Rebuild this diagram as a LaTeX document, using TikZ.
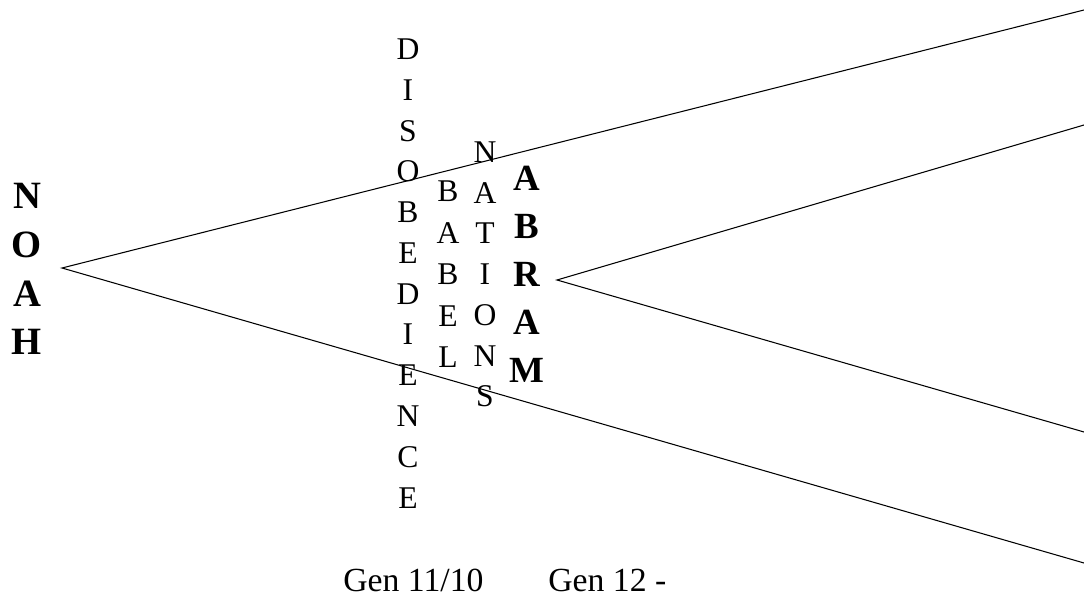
\documentclass[tikz,border=0pt]{standalone}
\usepackage{fontspec}
\setmainfont{Liberation Serif}
\usepackage{tikz}

\begin{document}
\begin{tikzpicture}[x=0.02cm, y=-0.02cm,
    word/.style={align=center, inner sep=0pt, font=\fontsize{18}{23.2}\selectfont},
    bigname/.style={align=center, inner sep=0pt, font=\fontsize{22}{27.8}\selectfont\bfseries},
    ref/.style={anchor=base west, inner sep=0pt, font=\fontsize{19.2}{22}\selectfont},
    branch/.style={line width=0.6pt}]

    \useasboundingbox (0,0) rectangle (1084,597);

    % The two names
    \node[bigname] (noah) at (27,269) {N\\O\\A\\H};
    \node[bigname, font=\fontsize{21}{27.4}\selectfont\bfseries] (abram) at (527,274.5) {A\\B\\R\\A\\M};

    % The words between them
    \node[word] (disobedience) at (408,273.5) {D\\I\\S\\O\\B\\E\\D\\I\\E\\N\\C\\E};
    \node[word, font=\fontsize{18}{23.6}\selectfont] (babel) at (448,274.5) {B\\A\\B\\E\\L};
    \node[word] (nations) at (485,274.5) {N\\A\\T\\I\\O\\N\\S};

    % Tips and open ends of the two wedges
    \coordinate (noahtip) at (62,268);
    \coordinate (noahup) at (1084,10);
    \coordinate (noahdown) at (1084,563);
    \coordinate (abramtip) at (557,280);
    \coordinate (abramup) at (1084,125);
    \coordinate (abramdown) at (1084,432);

    % Draw the wedges
    \draw[branch] (noahup) -- (noahtip) -- (noahdown);
    \draw[branch] (abramup) -- (abramtip) -- (abramdown);

    % References
    \node[ref] (gen11) at (343,591) {Gen 11/10};
    \node[ref] (gen12) at (548,591) {Gen 12 -};

\end{tikzpicture}
\end{document}
